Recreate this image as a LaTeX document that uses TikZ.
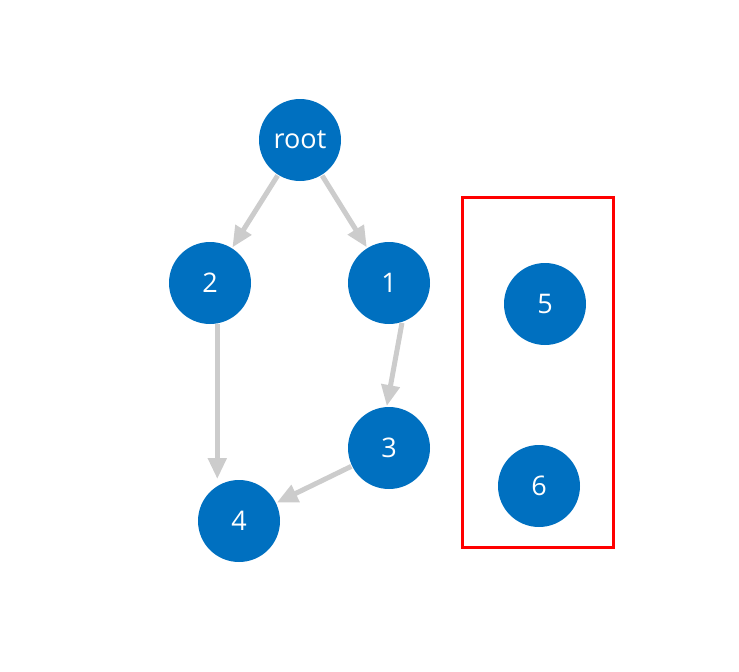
\documentclass[tikz,border=0pt]{standalone}
\usepackage{fontspec}
\setmainfont{Open Sans}
\usetikzlibrary{arrows.meta}
\definecolor{nodeblue}{RGB}{0,112,192}
\definecolor{edgegray}{RGB}{204,204,204}
\tikzset{
  vtx/.style={circle, fill=nodeblue, draw=none, minimum size=82pt, inner sep=0pt, outer sep=1pt,
    text=white, font=\fontsize{27}{31}\selectfont},
  edge/.style={draw=edgegray, line width=5pt, -{Triangle[length=21pt,width=18pt]}},
  groupbox/.style={draw=red, line width=3pt}
}
\begin{document}
\begin{tikzpicture}[x=1pt,y=-1pt]
\useasboundingbox (0,0) rectangle (739,672);
\node[vtx] (root) at (300,140) {root};
\node[vtx] (n2) at (210,283) {2};
\node[vtx] (n1) at (389,283) {1};
\node[vtx] (n3) at (389,448) {3};
\node[vtx] (n4) at (239,521) {4};
\node[vtx] (n5) at (545,304) {5};
\node[vtx] (n6) at (539,486) {6};
\draw[groupbox] (462,197) rectangle (613,547);
\draw[edge] (root) -- (n2);
\draw[edge] (root) -- (n1);
\draw[edge] (n1.-72) -- (n3.93);
\draw[edge] (n2.-80) -- (n4.north -| n2.-80);
\draw[edge] (n3) -- (n4);
\end{tikzpicture}
\end{document}
